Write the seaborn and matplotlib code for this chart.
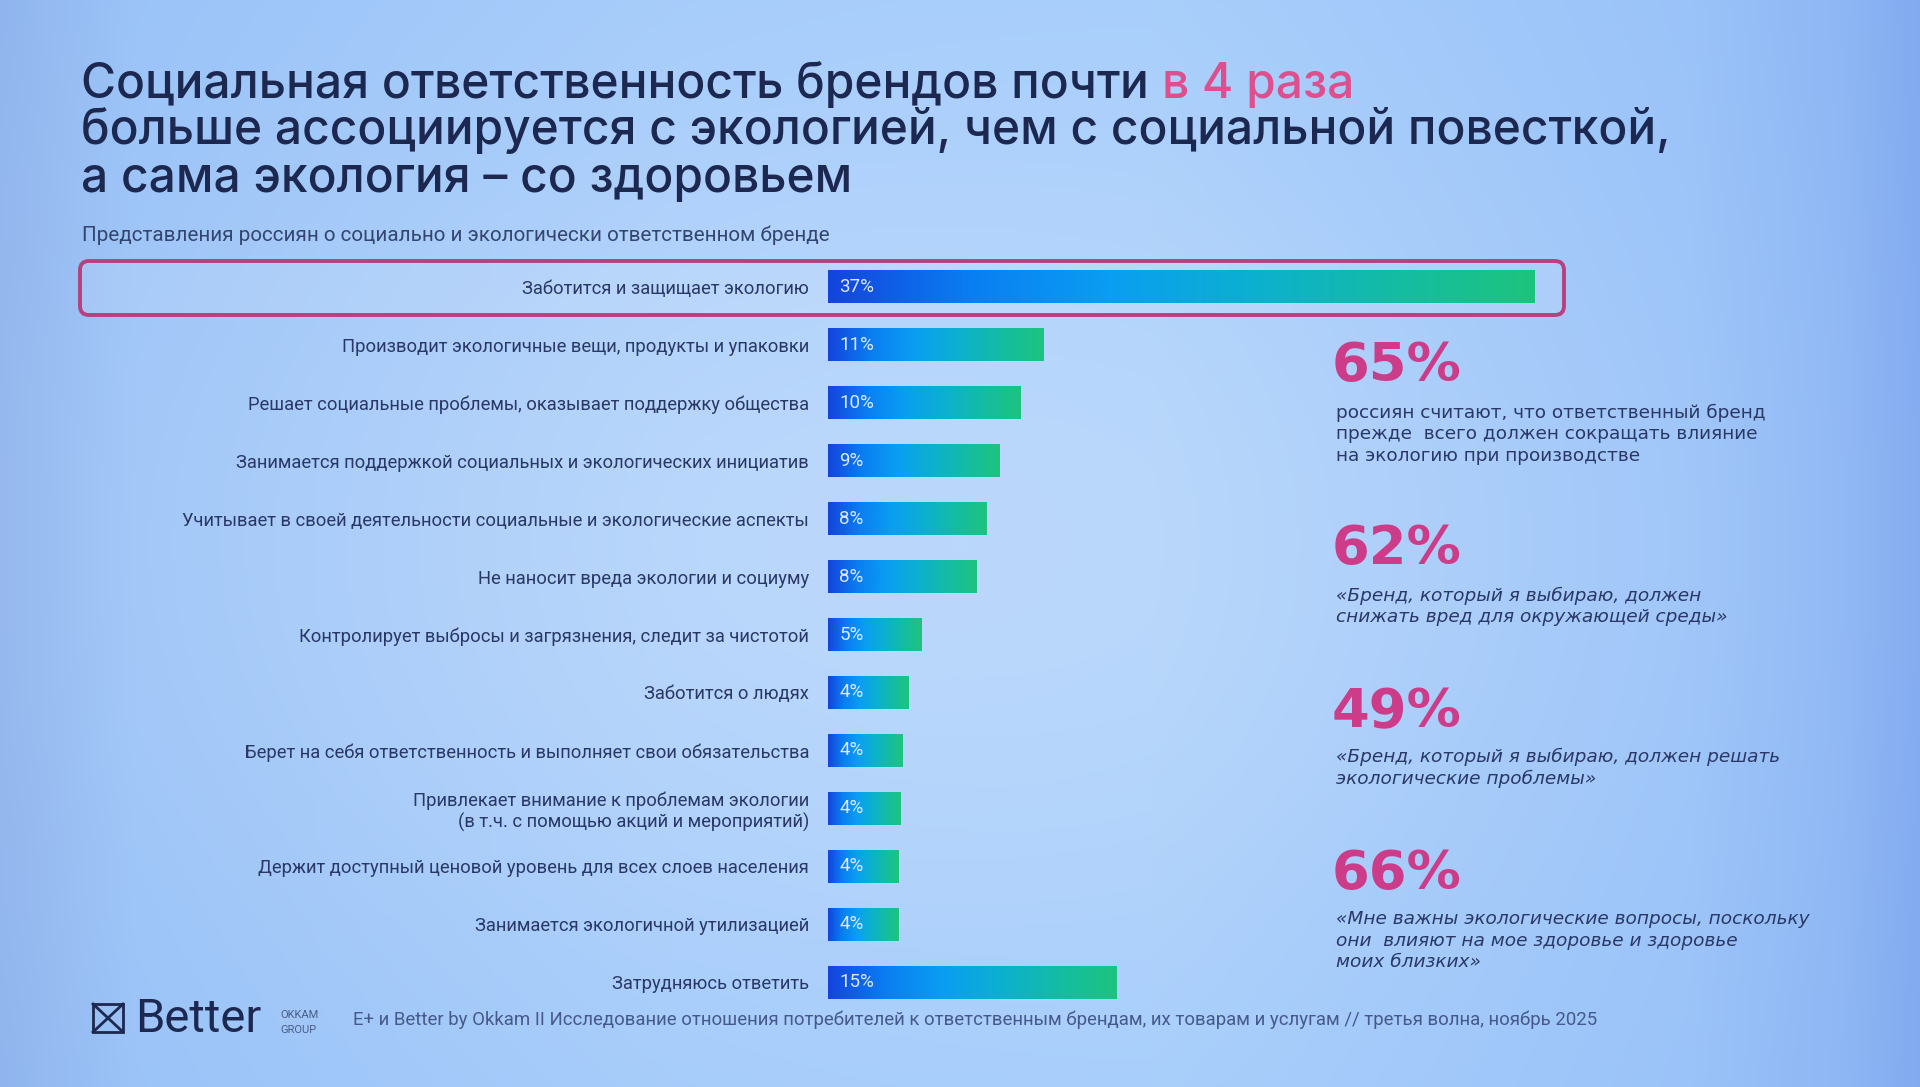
import numpy as np
import pandas as pd
import matplotlib
matplotlib.use("Agg")
import matplotlib.pyplot as plt
import seaborn as sns
from matplotlib.colors import LinearSegmentedColormap
from matplotlib.patches import FancyBboxPatch, Rectangle
from matplotlib.transforms import IdentityTransform
from matplotlib.lines import Line2D

# ---------------- data ----------------
categories = [
    "Заботится и защищает экологию",
    "Производит экологичные вещи, продукты и упаковки",
    "Решает социальные проблемы, оказывает поддержку общества",
    "Занимается поддержкой социальных и экологических инициатив",
    "Учитывает в своей деятельности социальные и экологические аспекты",
    "Не наносит вреда экологии и социуму",
    "Контролирует выбросы и загрязнения, следит за чистотой",
    "Заботится о людях",
    "Берет на себя ответственность и выполняет свои обязательства",
    "Привлекает внимание к проблемам экологии\n(в т.ч. с помощью акций и мероприятий)",
    "Держит доступный ценовой уровень для всех слоев населения",
    "Занимается экологичной утилизацией",
    "Затрудняюсь ответить",
]
values = [37.0, 11.3, 10.1, 9.0, 8.3, 7.8, 4.9, 4.2, 3.9, 3.8, 3.7, 3.7, 15.1]
value_labels = ["37%", "11%", "10%", "9%", "8%", "8%", "5%", "4%", "4%", "4%", "4%", "4%", "15%"]

stat_numbers = ["65%", "62%", "49%", "66%"]
stat_texts = [
    ["россиян считают, что ответственный бренд",
     "прежде  всего должен сокращать влияние",
     "на экологию при производстве"],
    ["«Бренд, который я выбираю, должен",
     "снижать вред для окружающей среды»"],
    ["«Бренд, который я выбираю, должен решать",
     "экологические проблемы»"],
    ["«Мне важны экологические вопросы, поскольку",
     "они  влияют на мое здоровье и здоровье",
     "моих близких»"],
]
stat_italic = [False, True, True, True]

title_lines = [
    ("Социальная ответственность брендов почти", "в 4 раза"),
    ("больше ассоциируется с экологией, чем с социальной повесткой,", ""),
    ("а сама экология – со здоровьем", ""),
]
subtitle = "Представления россиян о социально и экологически ответственном бренде"
footer = ("E+ и Better by Okkam II Исследование отношения потребителей к ответственным "
          "брендам, их товарам и услугам // третья волна, ноябрь 2025")

# ---------------- style ----------------
W, H = 1920, 1087
NAVY = "#1c2850"
LABEL = "#2a3866"
PINK = "#cc3c88"
PINK_T = "#de4f8e"
FOOT = "#46598a"

fig = plt.figure(figsize=(W / 100, H / 100), dpi=100)
renderer = fig.canvas.get_renderer()


def fx(x):
    return x / W


def fy(y):
    return 1 - y / H


def text_width(s, **kw):
    t = fig.text(0, 0, s, **kw)
    w = t.get_window_extent(renderer).width
    t.remove()
    return w


def fit_size(s, target, **kw):
    return 20 * target / text_width(s, fontsize=20, **kw)


# ---------------- background ----------------
bg = fig.add_axes([0, 0, 1, 1], zorder=-10)
nx, ny = 480, 272
xs = np.linspace(0, 1, nx)
ys = np.linspace(0, 1, ny)
kx = [0.0, 0.07, 0.35, 0.6, 0.88, 0.96, 1.0]
cols = np.array([[142, 180, 238], [152, 194, 248], [160, 201, 251], [162, 203, 251],
                 [152, 194, 249], [140, 182, 244], [128, 170, 240]])
row = np.stack([np.interp(xs, kx, cols[:, c]) for c in range(3)], axis=-1)
XX, YY = np.meshgrid(xs, ys)
glow = np.exp(-((XX - 0.45) / 0.42) ** 2 - ((YY - 0.5) / 0.45) ** 2)
img = row[None, :, :] + glow[:, :, None] * np.array([26, 14, 0])[None, None, :]
img = np.clip(img, 0, 255) / 255.0
bg.imshow(img, extent=[0, 1, 0, 1], aspect="auto", origin="upper")
bg.set_axis_off()

# ---------------- highlight box ----------------
box = FancyBboxPatch((80, H - 315), 1484, 54,
                     boxstyle="round,pad=0,rounding_size=9",
                     transform=IdentityTransform(), facecolor=(1, 1, 1, 0.10),
                     edgecolor="#b7407f", linewidth=2.8, zorder=-5)
fig.add_artist(box)

# ---------------- bars ----------------
ax = fig.add_axes([fx(828), fy(1011), 764 / W, (1011 - 258) / H], zorder=1)
ax.patch.set_alpha(0)
df = pd.DataFrame({"category": categories, "value": values})
sns.barplot(data=df, x="value", y="category", ax=ax, orient="h",
            width=0.57, color="#1a6fe8", saturation=1)

grad = LinearSegmentedColormap.from_list(
    "bargrad", ["#1444dc", "#0a7ef2", "#0a9ef2", "#0cb0d0", "#14bca4", "#1dc47e"])
gimg = np.linspace(0, 1, 256)[None, :]
for p, lab in zip(ax.patches, value_labels):
    x0, y0, w, h = p.get_x(), p.get_y(), p.get_width(), p.get_height()
    p.set_facecolor("none")
    p.set_edgecolor("none")
    im = ax.imshow(gimg, cmap=grad, extent=[x0, x0 + w, y0 + h, y0],
                   aspect="auto", interpolation="bicubic", zorder=2)
    im.set_clip_path(p)
    ax.annotate(lab, xy=(x0, y0 + h / 2), xytext=(8, 0), textcoords="offset points",
                va="center", ha="left", fontsize=13.5, family="Roboto",
                color="#dce9ff", zorder=3)

ax.set_xlim(0, 40)
ax.set_ylim(12.5, -0.5)
for s in ax.spines.values():
    s.set_visible(False)
ax.set_xticks([])
ax.set_xlabel("")
ax.set_ylabel("")
lab_size = fit_size(categories[4], 627, family="Roboto")
ax.set_yticks(range(len(categories)))
ax.set_yticklabels(categories, fontsize=lab_size, family="Roboto", color=LABEL)
ax.tick_params(axis="y", length=0, pad=13.5)

# ---------------- title ----------------
title_font = "Inter"
tw = "medium"
tsize = fit_size(title_lines[1][0], 1585, family=title_font, weight=tw)
space = text_width("a a", fontsize=tsize, family=title_font, weight=tw) - \
    text_width("aa", fontsize=tsize, family=title_font, weight=tw)
for (main, accent), base in zip(title_lines, [98, 144.5, 192]):
    t = fig.text(fx(81), fy(base), main, fontsize=tsize, family=title_font,
                 weight=tw, color=NAVY, va="baseline", ha="left")
    if accent:
        ext = t.get_window_extent(renderer)
        fig.text((ext.x1 + space) / W, fy(base), accent, fontsize=tsize,
                 family=title_font, weight=tw, color=PINK_T,
                 va="baseline", ha="left")

ssize = fit_size(subtitle, 747, family="Roboto")
fig.text(fx(82), fy(241), subtitle, fontsize=ssize, family="Roboto",
         color="#34466f", va="baseline", ha="left")

# ---------------- right-side stats ----------------
num_size = fit_size("65%", 130, family="DejaVu Sans", weight="bold")
desc_size = fit_size(stat_texts[0][0], 430, family="DejaVu Sans")
num_base = [381, 564, 727, 889]
desc_base = [418, 601, 762, 924]
for num, lines, ital, nb, db in zip(stat_numbers, stat_texts, stat_italic, num_base, desc_base):
    fig.text(fx(1332), fy(nb), num, fontsize=num_size, family="DejaVu Sans",
             weight="bold", color=PINK, va="baseline", ha="left")
    for i, line in enumerate(lines):
        fig.text(fx(1336), fy(db + i * 21.5), line, fontsize=desc_size,
                 family="DejaVu Sans", style="italic" if ital else "normal",
                 color=LABEL, va="baseline", ha="left")

# ---------------- footer ----------------
logo = Rectangle((93, H - 1032), 30, 28, transform=IdentityTransform(),
                 fill=False, edgecolor=NAVY, linewidth=2.0)
fig.add_artist(logo)
fig.add_artist(Line2D([93, 123], [H - 1004, H - 1032], transform=IdentityTransform(),
                      color=NAVY, linewidth=2.0))
fig.add_artist(Line2D([123, 93], [H - 1004, H - 1032], transform=IdentityTransform(),
                      color=NAVY, linewidth=2.0))
bsize = fit_size("Better", 126, family="Roboto")
fig.text(fx(135), fy(1032), "Better", fontsize=bsize, family="Roboto",
         color=NAVY, va="baseline", ha="left")
fig.text(fx(280), fy(1018), "OKKAM", fontsize=8, family="Roboto",
         color="#4a5c88", va="baseline", ha="left")
fig.text(fx(280), fy(1033), "GROUP", fontsize=8, family="Roboto",
         color="#4a5c88", va="baseline", ha="left")
fsize = fit_size(footer, 1243, family="Roboto")
fig.text(fx(353), fy(1025), footer, fontsize=fsize, family="Roboto",
         color=FOOT, va="baseline", ha="left")

fig.savefig("out.png", dpi=100)
